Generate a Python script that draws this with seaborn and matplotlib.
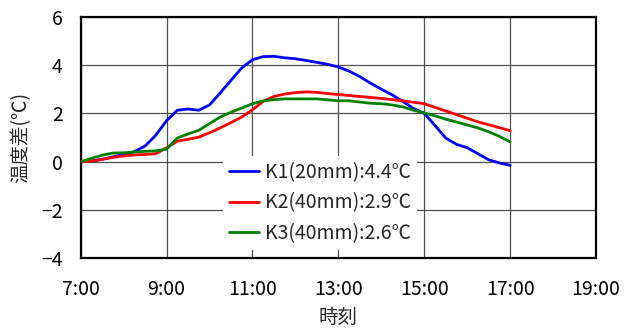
import numpy as np
import pandas as pd
import matplotlib
matplotlib.use("Agg")
import matplotlib.pyplot as plt
import seaborn as sns
from matplotlib.lines import Line2D

# ---- data ----
hours = [7.0, 7.25, 7.5, 7.75, 8.0, 8.25, 8.5, 8.75, 9.0, 9.25, 9.5, 9.75,
         10.0, 10.25, 10.5, 10.75, 11.0, 11.25, 11.5, 11.75, 12.0, 12.25,
         12.5, 12.75, 13.0, 13.25, 13.5, 13.75, 14.0, 14.25, 14.5, 14.75,
         15.0, 15.25, 15.5, 15.75, 16.0, 16.25, 16.5, 16.75, 17.0]
k1 = [0.0, 0.03, 0.1, 0.2, 0.3, 0.42, 0.65, 1.1, 1.7, 2.13, 2.18, 2.13,
      2.35, 2.85, 3.37, 3.88, 4.22, 4.35, 4.36, 4.3, 4.26, 4.19,
      4.11, 4.03, 3.92, 3.75, 3.52, 3.25, 3.0, 2.77, 2.5, 2.2,
      2.0, 1.5, 0.98, 0.72, 0.58, 0.33, 0.08, -0.05, -0.15]
k2 = [0.0, 0.02, 0.1, 0.18, 0.24, 0.28, 0.3, 0.33, 0.58, 0.85, 0.93, 1.02,
      1.2, 1.4, 1.62, 1.85, 2.15, 2.5, 2.7, 2.8, 2.86, 2.89,
      2.87, 2.82, 2.78, 2.74, 2.7, 2.66, 2.62, 2.57, 2.52, 2.46,
      2.4, 2.25, 2.1, 1.95, 1.8, 1.65, 1.53, 1.41, 1.28]
k3 = [0.0, 0.14, 0.27, 0.36, 0.37, 0.4, 0.43, 0.45, 0.52, 0.98, 1.15, 1.3,
      1.58, 1.85, 2.05, 2.22, 2.4, 2.52, 2.57, 2.6, 2.6, 2.6,
      2.6, 2.56, 2.52, 2.52, 2.47, 2.42, 2.4, 2.35, 2.27, 2.13,
      2.02, 1.9, 1.76, 1.64, 1.52, 1.4, 1.24, 1.05, 0.82]
series_names = ["K1(20mm):4.4℃", "K2(40mm):2.9℃", "K3(40mm):2.6℃"]
colors = ["#0000FF", "#FF0000", "#008000"]
x_ticks = [7, 9, 11, 13, 15, 17, 19]
x_tick_labels = ["7:00", "9:00", "11:00", "13:00", "15:00", "17:00", "19:00"]
y_ticks = [-4, -2, 0, 2, 4, 6]

df = pd.concat([
    pd.DataFrame({"hour": hours, "value": vals, "series": name})
    for name, vals in zip(series_names, [k1, k2, k3])
], ignore_index=True)

sns.set_style("white")
plt.rcParams["font.family"] = ["Noto Sans CJK JP", "DejaVu Sans"]
plt.rcParams["axes.unicode_minus"] = True

fig = plt.figure(figsize=(6.33, 3.29), dpi=100)
ax = fig.add_axes([0.1275, 0.2146, 0.8141, 0.7346])

sns.lineplot(data=df, x="hour", y="value", hue="series", palette=colors,
             hue_order=series_names, linewidth=2.0, ax=ax, legend=False,
             zorder=3)

ax.set_xlim(7, 19)
ax.set_ylim(-4, 6)
ax.set_xticks(x_ticks)
ax.set_xticklabels(x_tick_labels)
ax.set_yticks(y_ticks)
ax.set_yticklabels([str(v).replace("-", "\u2212") for v in y_ticks])
ax.grid(True, color="#505050", linewidth=0.9, zorder=1)
ax.set_axisbelow(True)
for sp in ax.spines.values():
    sp.set_visible(True)
    sp.set_color("black")
    sp.set_linewidth(1.6)
ax.tick_params(axis="both", labelsize=14, length=0, colors="black")
ax.tick_params(axis="x", pad=15)
ax.tick_params(axis="y", pad=13)
ax.set_xlabel("時刻", fontsize=14)
ax.set_ylabel("温度差(℃)", fontsize=14)
ax.xaxis.set_label_coords(0.5, -0.2)
ax.yaxis.set_label_coords(-0.095, 0.5)

handles = [Line2D([0], [0], color=c, lw=2.0) for c in colors]
leg = fig.legend(handles, series_names, loc="upper left",
                 bbox_to_anchor=(223 / 633, 1 - 156 / 329),
                 fontsize=14, frameon=True, fancybox=False,
                 handlelength=1.55, handletextpad=0.3, labelspacing=0.5,
                 borderpad=0.3, borderaxespad=0)
leg.get_frame().set_facecolor("white")
leg.get_frame().set_edgecolor("none")
leg.get_frame().set_alpha(1.0)
leg.set_zorder(5)

fig.savefig("out.png", dpi=100)
